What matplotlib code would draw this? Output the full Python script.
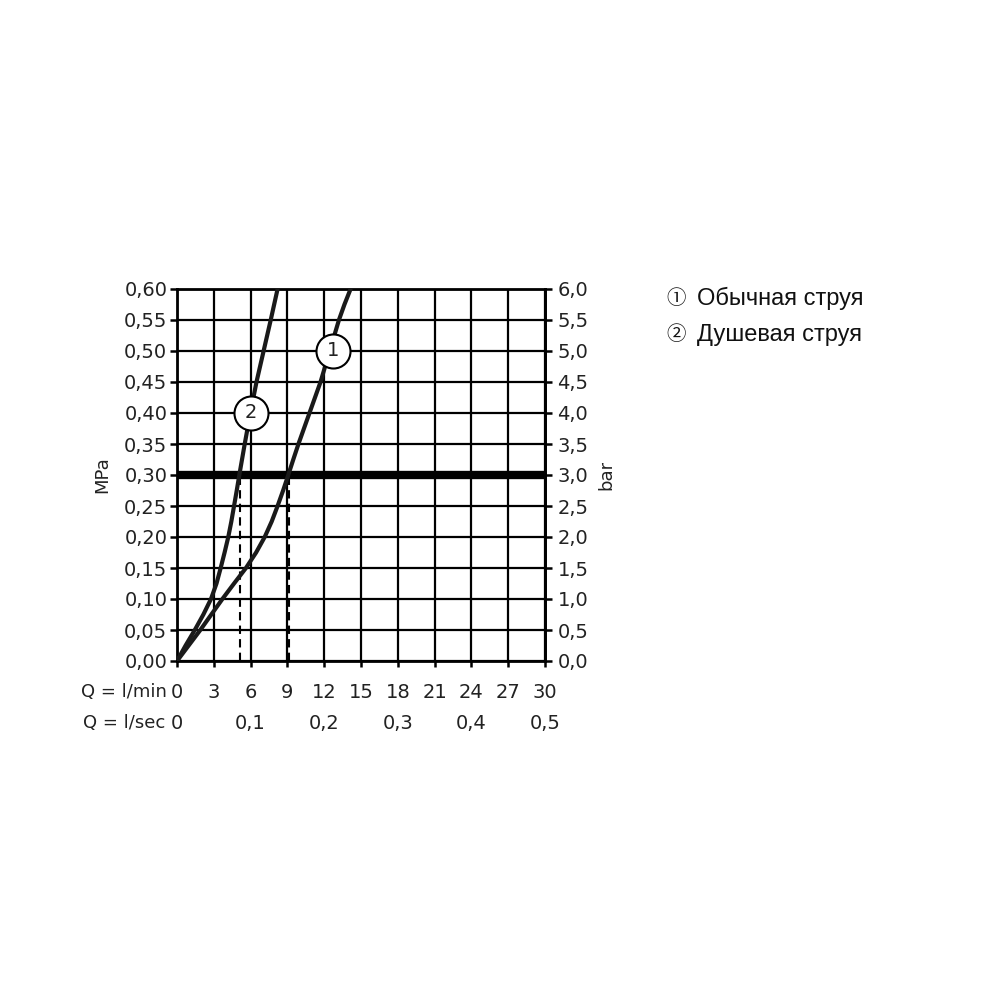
import matplotlib
matplotlib.use("Agg")
import matplotlib.pyplot as plt
import matplotlib.transforms as mtransforms
from matplotlib.font_manager import FontProperties, fontManager

# ---- data ----
q_min_ticks = [0, 3, 6, 9, 12, 15, 18, 21, 24, 27, 30]
q_sec_ticks = [0, 0.1, 0.2, 0.3, 0.4, 0.5]
mpa_ticks = [0.00, 0.05, 0.10, 0.15, 0.20, 0.25, 0.30, 0.35, 0.40, 0.45, 0.50, 0.55, 0.60]

curve1_p = [0, 0.025, 0.05, 0.075, 0.10, 0.125, 0.15, 0.175, 0.20, 0.225, 0.25, 0.275,
            0.30, 0.325, 0.35, 0.375, 0.40, 0.425, 0.45, 0.50, 0.55, 0.575, 0.60]
curve1_q = [0, 0.95, 1.9, 2.8, 3.7, 4.65, 5.62, 6.45, 7.15, 7.72, 8.2, 8.65,
            9.07, 9.48, 9.9, 10.35, 10.8, 11.25, 11.7, 12.45, 13.2, 13.65, 14.15]
curve2_p = [0, 0.025, 0.05, 0.075, 0.10, 0.125, 0.15, 0.175, 0.20, 0.225, 0.25, 0.275,
            0.30, 0.325, 0.35, 0.375, 0.40, 0.45, 0.475, 0.50, 0.525, 0.55, 0.575, 0.60]
curve2_q = [0, 0.7, 1.45, 2.15, 2.77, 3.22, 3.56, 3.88, 4.18, 4.43, 4.65, 4.87,
            5.08, 5.3, 5.52, 5.75, 5.98, 6.48, 6.77, 7.06, 7.35, 7.64, 7.92, 8.2]

ref_pressure = 0.30
flow_at_ref = [5.1, 9.1]
label_pos = {"1": (12.69, 0.50), "2": (6.0, 0.40)}
legend_items = [("①", "Обычная струя"), ("②", "Душевая струя")]

# ---- fonts ----
leg_file = None
for f in fontManager.ttflist:
    if f.name == "Liberation Sans" and "Narrow" not in f.fname and f.weight in (400, "normal") \
            and f.style == "normal":
        leg_file = f.fname
        break
if leg_file:
    leg_fp = FontProperties(fname=leg_file, size=17)
else:
    leg_fp = FontProperties(family="DejaVu Sans", size=15.5)

# ---- figure ----
fig = plt.figure(figsize=(10, 10), dpi=100)
ax = fig.add_axes([0.177, 0.339, 0.368, 0.372])
ax.set_xlim(0, 30)
ax.set_ylim(0, 0.60)

tick_font = dict(family="DejaVu Sans", size=14)
txt_col = "#222222"

ax.set_xticks(q_min_ticks)
ax.set_xticklabels([str(v) for v in q_min_ticks], **tick_font)
ax.set_yticks(mpa_ticks)
ax.set_yticklabels([f"{v:.2f}".replace(".", ",") for v in mpa_ticks], **tick_font)
ax.tick_params(axis="x", direction="out", length=4, width=1.8, pad=12, colors="black", labelcolor=txt_col)
ax.tick_params(axis="y", direction="out", length=5, width=1.8, pad=2, colors="black", labelcolor=txt_col)

ax.grid(True, color="black", linewidth=1.6)
ax.set_axisbelow(True)
for s in ax.spines.values():
    s.set_linewidth(2.0)
    s.set_color("black")

# right bar axis
sec = ax.secondary_yaxis("right", functions=(lambda x: x * 10, lambda x: x / 10))
bar_ticks = [v * 10 for v in mpa_ticks]
sec.set_yticks(bar_ticks)
sec.set_yticklabels([f"{v:.1f}".replace(".", ",") for v in bar_ticks], **tick_font)
sec.tick_params(direction="out", length=5, width=1.8, pad=4, labelcolor=txt_col)
sec.spines["right"].set_linewidth(2.0)
sec.set_ylabel("bar", fontsize=13, family="DejaVu Sans", rotation=90, labelpad=6, color=txt_col)

ax.set_ylabel("MPa", fontsize=13, family="DejaVu Sans", labelpad=9, color=txt_col)

# reference line and dashed verticals
ax.axhline(ref_pressure, color="black", linewidth=6, zorder=3)
for fq in flow_at_ref:
    ax.plot([fq, fq], [0, ref_pressure], color="black", linewidth=1.5,
            linestyle=(0, (4, 2.5)), zorder=3)

# curves
for qs, ps in ((curve1_q, curve1_p), (curve2_q, curve2_p)):
    ax.plot(qs, ps, color="#1a1a1a", linewidth=3.0, solid_joinstyle="round",
            solid_capstyle="round", zorder=4)

# circled labels
for k, (xq, yp) in label_pos.items():
    ax.plot([xq], [yp], marker="o", markersize=24.5, markerfacecolor="white",
            markeredgecolor="black", markeredgewidth=1.5, zorder=5, clip_on=False)
    ax.text(xq, yp, k, ha="center", va="center", fontsize=14, family="DejaVu Sans",
            zorder=6, color=txt_col)

# l/sec row and row captions
trans = mtransforms.blended_transform_factory(ax.transData, ax.transAxes)
row2_y = -0.167
for v in q_sec_ticks:
    lbl = "0" if v == 0 else f"{v:.1f}".replace(".", ",")
    ax.text(v * 60, row2_y, lbl, transform=trans, ha="center", va="center",
            color=txt_col, **tick_font)
fig.text(0.167, 1 - 0.692, "Q = l/min", ha="right", va="center", color=txt_col,
         family="DejaVu Sans", size=13)
fig.text(0.165, 1 - 0.723, "Q = l/sec", ha="right", va="center", color=txt_col,
         family="DejaVu Sans", size=13)

# legend
leg_y = [1 - 0.298, 1 - 0.335]
for (sym, txt), y in zip(legend_items, leg_y):
    fig.text(0.676, y, sym, ha="center", va="center", fontsize=14,
             family=["Noto Sans CJK SC", "DejaVu Sans"], color="#111111")
    fig.text(0.697, y, txt, ha="left", va="center", fontproperties=leg_fp, color="#111111")

fig.savefig("out.png", dpi=100)
